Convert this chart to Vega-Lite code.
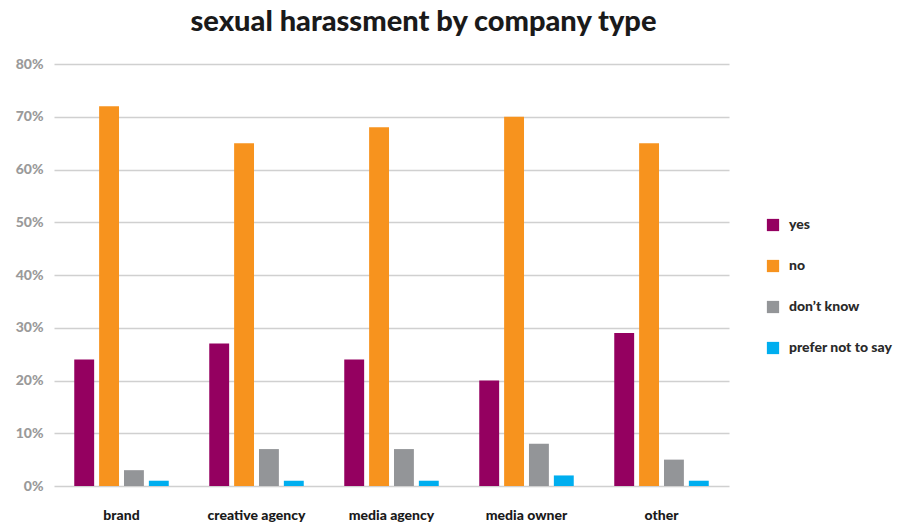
{
  "$schema": "https://vega.github.io/schema/vega-lite/v6.json",
  "width": 675,
  "height": 422,
  "padding": {"left": 15, "top": 8, "right": 0, "bottom": 0},
  "background": "white",
  "title": {
    "text": "sexual harassment by company type",
    "fontSize": 29,
    "font": "Lato",
    "fontWeight": 900,
    "color": "#1a1a1a",
    "anchor": "middle",
    "dx": 32,
    "offset": 20
  },
  "data": {
    "values": [
      {"company": "brand", "answer": "yes", "pct": 24},
      {"company": "brand", "answer": "no", "pct": 72},
      {"company": "brand", "answer": "don’t know", "pct": 3},
      {"company": "brand", "answer": "prefer not to say", "pct": 1},
      {"company": "creative agency", "answer": "yes", "pct": 27},
      {"company": "creative agency", "answer": "no", "pct": 65},
      {"company": "creative agency", "answer": "don’t know", "pct": 7},
      {"company": "creative agency", "answer": "prefer not to say", "pct": 1},
      {"company": "media agency", "answer": "yes", "pct": 24},
      {"company": "media agency", "answer": "no", "pct": 68},
      {"company": "media agency", "answer": "don’t know", "pct": 7},
      {"company": "media agency", "answer": "prefer not to say", "pct": 1},
      {"company": "media owner", "answer": "yes", "pct": 20},
      {"company": "media owner", "answer": "no", "pct": 70},
      {"company": "media owner", "answer": "don’t know", "pct": 8},
      {"company": "media owner", "answer": "prefer not to say", "pct": 2},
      {"company": "other", "answer": "yes", "pct": 29},
      {"company": "other", "answer": "no", "pct": 65},
      {"company": "other", "answer": "don’t know", "pct": 5},
      {"company": "other", "answer": "prefer not to say", "pct": 1}
    ]
  },
  "mark": {"type": "bar"},
  "encoding": {
    "x": {
      "field": "company",
      "type": "nominal",
      "sort": null,
      "scale": {"paddingInner": 0.3, "paddingOuter": 0.15},
      "axis": {
        "title": null,
        "labelAngle": 0,
        "labelFont": "Lato",
        "labelFontWeight": 900,
        "labelFontSize": 14,
        "labelColor": "#1a1a1a",
        "labelPadding": 22,
        "ticks": false,
        "domain": false
      }
    },
    "xOffset": {
      "field": "answer",
      "type": "nominal",
      "sort": ["yes", "no", "don’t know", "prefer not to say"],
      "scale": {"paddingInner": 0.2}
    },
    "y": {
      "field": "pct",
      "type": "quantitative",
      "scale": {"domain": [0, 80], "nice": false},
      "axis": {
        "title": null,
        "values": [0, 10, 20, 30, 40, 50, 60, 70, 80],
        "labelOverlap": false,
        "labelExpr": "datum.value + '%'",
        "labelFont": "Lato",
        "labelFontWeight": 900,
        "labelFontSize": 14,
        "labelColor": "#9a9a9a",
        "labelPadding": 11,
        "ticks": false,
        "domain": false,
        "grid": true,
        "gridColor": "#d0d0d0",
        "gridWidth": 1.5
      }
    },
    "color": {
      "field": "answer",
      "type": "nominal",
      "sort": ["yes", "no", "don’t know", "prefer not to say"],
      "scale": {
        "domain": ["yes", "no", "don’t know", "prefer not to say"],
        "range": ["#940060", "#F7931E", "#939598", "#00AEEF"]
      },
      "legend": {
        "title": null,
        "orient": "none",
        "legendX": 712,
        "legendY": 154,
        "symbolType": "square",
        "symbolSize": 150,
        "symbolOpacity": 1,
        "symbolStrokeWidth": 0,
        "labelFont": "Lato",
        "labelFontWeight": 900,
        "labelFontSize": 14,
        "labelColor": "#2a2a2a",
        "labelOffset": 9,
        "rowPadding": 27
      }
    }
  },
  "config": {
    "view": {"stroke": null}
  }
}
